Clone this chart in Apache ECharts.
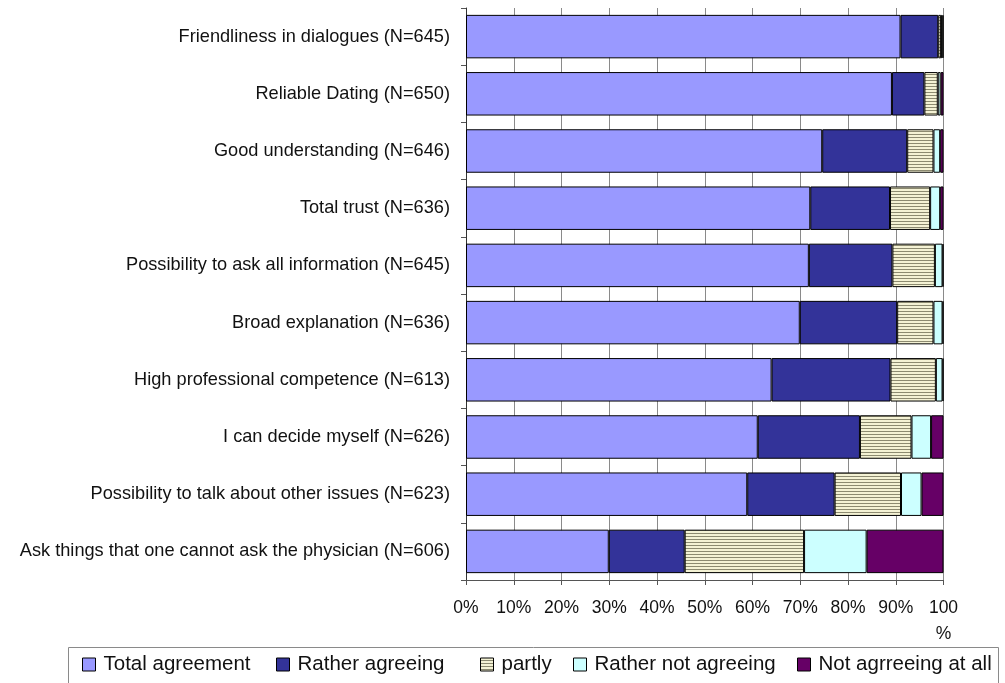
<!DOCTYPE html>
<html>
<head>
<meta charset="utf-8">
<script src="https://cdn.jsdelivr.net/npm/echarts@6/dist/echarts.min.js"></script>
<style>
  html, body { margin: 0; padding: 0; background: #fff; }
  #chart { width: 1005px; height: 683px; }
</style>
</head>
<body>
<div id="chart"></div>
<script>
// Survey items, listed top to bottom
const categories = [
  'Friendliness in dialogues (N=645)',
  'Reliable Dating (N=650)',
  'Good understanding (N=646)',
  'Total trust (N=636)',
  'Possibility to ask all information (N=645)',
  'Broad explanation (N=636)',
  'High professional competence (N=613)',
  'I can decide myself (N=626)',
  'Possibility to talk about other issues (N=623)',
  'Ask things that one cannot ask the physician (N=606)'
];

// Share of answers per item, in percent
const totalAgreement   = [91.0, 89.2, 74.6, 72.1, 71.8, 69.9, 64.0, 61.1, 58.9, 29.9];
const ratherAgreeing   = [7.9, 6.8, 17.8, 16.7, 17.5, 20.4, 24.9, 21.4, 18.3, 15.9];
const partly           = [0.6, 2.8, 5.5, 8.4, 8.9, 7.6, 9.5, 10.8, 13.9, 25.0];
const ratherNotAgree   = [0.3, 0.6, 1.4, 2.1, 1.6, 1.9, 1.4, 4.1, 4.3, 13.1];
const notAgreeingAtAll = [0.2, 0.6, 0.7, 0.7, 0.2, 0.2, 0.2, 2.6, 4.6, 16.1];

const seriesNames = ['Total agreement', 'Rather agreeing', 'partly', 'Rather not agreeing', 'Not agrreeing at all'];
const xTicks = [0, 10, 20, 30, 40, 50, 60, 70, 80, 90, 100];

// Horizontal stripe fill for the "partly" segments
function stripePattern() {
  const c = document.createElement('canvas');
  c.width = 4; c.height = 3;
  const g = c.getContext('2d');
  g.fillStyle = '#f4f2d4';
  g.fillRect(0, 0, 4, 3);
  g.fillStyle = '#8c8a70';
  g.fillRect(0, 2, 4, 1);
  return c;
}
const stripes = { image: stripePattern(), repeat: 'repeat' };

const fills = ['#9999ff', '#333399', stripes, '#ccffff', '#660066'];
const values = [totalAgreement, ratherAgreeing, partly, ratherNotAgree, notAgreeingAtAll];

const FONT = '"Liberation Sans", Arial, sans-serif';

const series = seriesNames.map((name, i) => ({
  name: name,
  type: 'bar',
  stack: 'all',
  barCategoryGap: '24%',
  data: values[i],
  itemStyle: { color: fills[i], borderColor: '#000', borderWidth: 1 },
  emphasis: { disabled: true }
}));

// One legend block per entry so each sits at its own position
const legendLefts = [82, 276, 480, 573, 797];
const legends = seriesNames.map((name, i) => ({
  data: [name],
  left: legendLefts[i],
  top: 654,
  padding: 0,
  itemWidth: 13,
  itemHeight: 13,
  icon: 'rect',
  selectedMode: false,
  itemStyle: { borderColor: '#000', borderWidth: 1 },
  textStyle: { fontFamily: FONT, fontSize: 20.5, color: '#111', padding: [0, 0, 0, 3] }
}));

const chart = echarts.init(document.getElementById('chart'), null, { renderer: 'canvas' });
chart.setOption({
  animation: false,
  backgroundColor: '#fff',
  grid: { left: 466, right: 61.5, top: 8, bottom: 103, containLabel: false },
  xAxis: {
    type: 'value',
    min: xTicks[0],
    max: xTicks[xTicks.length - 1],
    interval: 10,
    axisLine: { show: true, lineStyle: { color: '#555', width: 1 } },
    axisTick: { show: true, length: 5, lineStyle: { color: '#555' } },
    splitLine: { show: true, lineStyle: { color: '#8a8a8a', width: 1 } },
    axisLabel: {
      margin: 15,
      fontFamily: FONT,
      fontSize: 17.5,
      color: '#111',
      lineHeight: 26,
      formatter: v => (v === 100 ? '100\n%' : v + '%')
    }
  },
  yAxis: {
    type: 'category',
    data: categories,
    inverse: true,
    axisLine: { show: true, lineStyle: { color: '#333', width: 1 } },
    axisTick: { show: true, length: 5, lineStyle: { color: '#555' } },
    axisLabel: { margin: 16, fontFamily: FONT, fontSize: 18.2, color: '#111' }
  },
  legend: legends,
  graphic: [{
    type: 'rect',
    shape: { x: 68.5, y: 647.5, width: 930, height: 60 },
    style: { fill: 'none', stroke: '#8a8a8a', lineWidth: 1 },
    silent: true
  }],
  series: series
});
</script>
</body>
</html>
